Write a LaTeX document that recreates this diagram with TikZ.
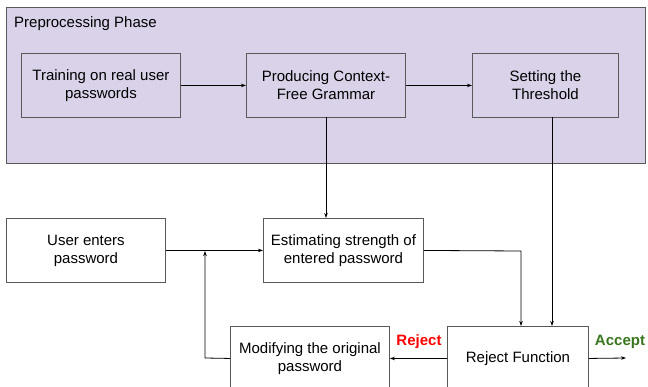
\documentclass[tikz,border=0pt]{standalone}
\usepackage{fontspec}
\setmainfont{Liberation Sans}
\usetikzlibrary{arrows.meta}
\definecolor{phasefill}{HTML}{D9D2E9}
\definecolor{edgegray}{HTML}{595959}
\definecolor{rejred}{HTML}{FF0000}
\definecolor{accgreen}{HTML}{38761D}
\begin{document}
\begin{tikzpicture}[x=1pt,y=-1pt,
  box/.style={draw=edgegray, line width=0.9pt, fill=white, anchor=north west,
    minimum height=64pt, align=center, inner sep=2pt,
    font=\fontsize{15}{18}\selectfont},
  phasebox/.style={box, fill=none},
  link/.style={draw=black, line width=0.8pt, -{Stealth[length=5pt,width=3.5pt]}},
  verdict/.style={font=\fontsize{15}{17}\selectfont\bfseries}]
  \useasboundingbox (0,0) rectangle (648,387);
  \clip (0,0) rectangle (648,387);

  % preprocessing phase container
  \node[draw=edgegray, line width=0.9pt, fill=phasefill, anchor=north west,
        minimum width=639pt, minimum height=156pt, inner sep=0pt] (phase) at (6,7) {};
  \node[anchor=west, font=\fontsize{15}{17}\selectfont, inner sep=0pt] (phasetitle) at (14,24) {Preprocessing Phase};

  % boxes of the phase
  \node[phasebox, minimum width=159pt] (train) at (21,53) {Training on real user\\passwords};
  \node[phasebox, minimum width=159pt] (prod) at (246,53) {Producing Context-\\Free Grammar};
  \node[phasebox, minimum width=146pt] (thr) at (472,53) {Setting the\\Threshold};

  % checking stage
  \node[box, minimum width=159pt] (user) at (6,218) {User enters\\password};
  \node[box, minimum width=160pt] (est) at (263,218) {Estimating strength of\\entered password};
  \node[box, minimum width=159pt] (mod) at (230,326) {Modifying the original\\password};
  \node[box, minimum width=141pt] (rej) at (447,326) {Reject Function};

  % labels of the two outcomes
  \node[verdict, text=rejred] (rejlabel) at (419,342) {Reject};
  \node[verdict, text=accgreen] (acclabel) at (620,342) {Accept};

  % connectors
  \draw[link] (train.east) -- (prod.west);
  \draw[link] (prod.east) -- (thr.west);
  \draw[link] (326,117) -- (326,218);
  \draw[link] (552,117) -- (552,326);
  \draw[link] (user.east) -- (est.west);
  \draw[link] (est.east) -- (521,251) -- (521,326);
  \draw[link] (rej.west) -- (mod.east);
  \coordinate (out) at (626,358);
  \draw[link] (rej.east) -- (out);
  \coordinate (merge) at (205,251);
  \draw[link] (mod.west) -- (205,358) -- (merge);
\end{tikzpicture}
\end{document}
